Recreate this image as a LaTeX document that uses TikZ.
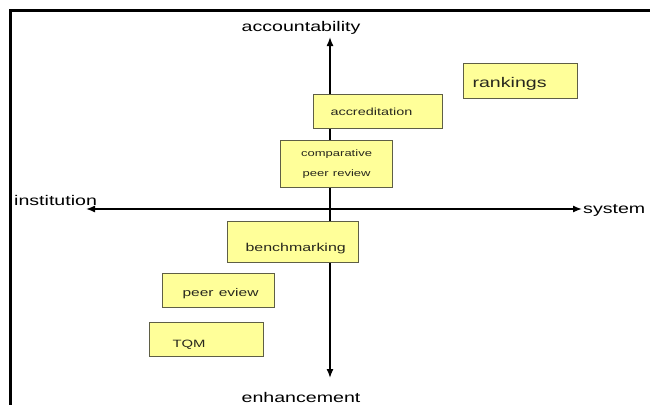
\documentclass[tikz,border=0pt]{standalone}
\usepackage{fontspec}
\setmainfont{Liberation Sans}
\usetikzlibrary{arrows.meta}
% horizontally widened lettering
\newcommand{\widetext}[1]{\scalebox{1.4}[1]{#1}}
\definecolor{boxfill}{RGB}{255,255,153}
\definecolor{boxline}{RGB}{95,95,70}
\definecolor{boxtext}{RGB}{40,40,30}

\begin{document}
\begin{tikzpicture}[x=1pt,y=-1pt,
  axislabel/.style={font=\fontsize{14}{16}\selectfont, inner sep=1pt},
  card/.style={draw=boxline, fill=boxfill, line width=1.1pt, anchor=north west,
    align=left, inner ysep=0pt, text depth=0pt, text=boxtext},
  axis/.style={line width=1.4pt, {Latex[length=9pt,width=7pt]}-{Latex[length=9pt,width=7pt]}}]

\useasboundingbox (0,0) rectangle (650,405);
\fill[white] (0,0) rectangle (650,405);

% frame: top and left edges only
\draw[line width=2.5pt] (650,10.3) -- (10.3,10.3) -- (10.3,405);

% axis ends
\coordinate (O) at (330,209);
\coordinate (N) at (330,37);
\coordinate (S) at (330,378);
\coordinate (W) at (86,209);
\coordinate (E) at (582,209);

% axis labels
\node[axislabel] (acc) at (301,28) {\widetext{accountability}};
\node[axislabel] (enh) at (301,397) {\widetext{enhancement}};
\node[axislabel, anchor=west] (inst) at (13,200) {\widetext{institution}};
\node[axislabel, anchor=west] (sys) at (582,210) {\widetext{system}};

% axes, drawn beneath the boxes
\draw[axis] (S) -- (N);
\draw[axis] (W) -- (E);

% boxes
\node[card, inner xsep=9pt, text width=96pt, minimum height=35pt, text height=13pt,
  font=\fontsize{14}{16}\selectfont] (rank) at (463,63) {\widetext{rankings}};
\node[card, inner xsep=17pt, text width=95pt, minimum height=34pt, text height=8pt,
  font=\fontsize{10.3}{12}\selectfont] (accr) at (313,94) {\widetext{accreditation}};
\node[card, align=center, inner xsep=4pt, text width=104pt, minimum height=47pt,
  text depth=, font=\fontsize{9.3}{20}\selectfont] (cpr) at (280,140)
  {\widetext{comparative}\\\widetext{peer review}};
\node[card, inner xsep=18pt, text width=95pt, minimum height=41pt, text height=19pt,
  font=\fontsize{11.4}{13}\selectfont] (bench) at (227,221) {\widetext{benchmarking}};
\node[card, inner xsep=20pt, text width=72pt, minimum height=34pt, text height=12pt,
  font=\fontsize{11.1}{13}\selectfont] (peer) at (162,273) {\widetext{peer eview}};
\node[card, inner xsep=23pt, text width=68pt, minimum height=34pt, text height=16pt,
  font=\fontsize{10.6}{12}\selectfont] (tqm) at (149,322) {\widetext{TQM}};

\end{tikzpicture}
\end{document}
